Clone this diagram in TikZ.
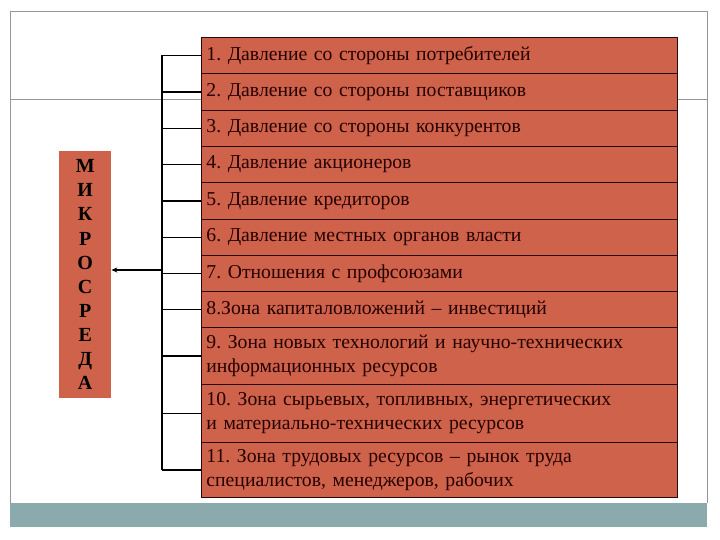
\documentclass[tikz,border=0pt]{standalone}
\usepackage{fontspec}
\setmainfont{Liberation Serif}
\usetikzlibrary{arrows.meta}
\definecolor{boxfill}{RGB}{206,98,74}
\definecolor{boxline}{RGB}{40,10,10}
\definecolor{band}{RGB}{138,170,173}
\definecolor{frame}{RGB}{150,150,150}
\tikzset{
  rowbox/.style={draw=boxline, line width=0.9bp, fill=boxfill, anchor=north west,
    minimum width=476bp, text width=466bp, inner xsep=5bp, inner ysep=0bp, align=left,
    font=\fontsize{19.7bp}{24bp}\selectfont\frenchspacing, text=black!85!red},
  conn/.style={line width=1.3bp, black},
  framel/.style={line width=1bp, frame}
}
\begin{document}
\begin{tikzpicture}[x=1bp,y=-1bp]
\useasboundingbox (0,0) rectangle (720,540);
% frame
\fill[band] (10,503) rectangle (707,527);
\draw[framel] (10,503) -- (10,12) -- (707,12) -- (707,503);
\draw[framel] (10,100) -- (707,100);
% rows
\node[rowbox, minimum height=36bp] (r1) at (201,37) {1. Давление со стороны потребителей};
\node[rowbox, minimum height=37bp] (r2) at (201,73) {2. Давление со стороны поставщиков};
\node[rowbox, minimum height=36bp] (r3) at (201,110) {3. Давление со стороны конкурентов};
\node[rowbox, minimum height=36bp] (r4) at (201,146) {4. Давление акционеров};
\node[rowbox, minimum height=37bp] (r5) at (201,182) {5. Давление кредиторов};
\node[rowbox, minimum height=36bp] (r6) at (201,219) {6. Давление местных органов власти};
\node[rowbox, minimum height=36bp] (r7) at (201,255) {7. Отношения с профсоюзами};
\node[rowbox, minimum height=36bp] (r8) at (201,291) {8.Зона капиталовложений – инвестиций};
\node[rowbox, minimum height=57bp] (r9) at (201,327) {9. Зона новых технологий и научно-технических\\информационных ресурсов};
\node[rowbox, minimum height=58bp] (r10) at (201,384) {10. Зона сырьевых, топливных, энергетических\\и материально-технических ресурсов};
\node[rowbox, minimum height=55bp] (r11) at (201,442) {11. Зона трудовых ресурсов – рынок труда\\специалистов, менеджеров, рабочих};
% micro box
\node[fill=boxfill, anchor=north west, minimum width=52bp, minimum height=247bp, inner sep=0pt,
  align=center, font=\fontsize{20bp}{24.1bp}\selectfont\bfseries, text=black] (micro) at (59,151)
  {М\\И\\К\\Р\\О\\С\\Р\\Е\\Д\\А};
% connectors
\coordinate (spine) at (162,270);
\foreach \i in {1,...,11} {
  \draw[conn] (r\i.west) -- (r\i.west -| spine);
}
\draw[conn] (r1.west -| spine) -- (r11.west -| spine);
\draw[conn, -{Stealth[length=6bp,width=5bp]}] (spine) -- (spine -| micro.east);
\end{tikzpicture}
\end{document}
